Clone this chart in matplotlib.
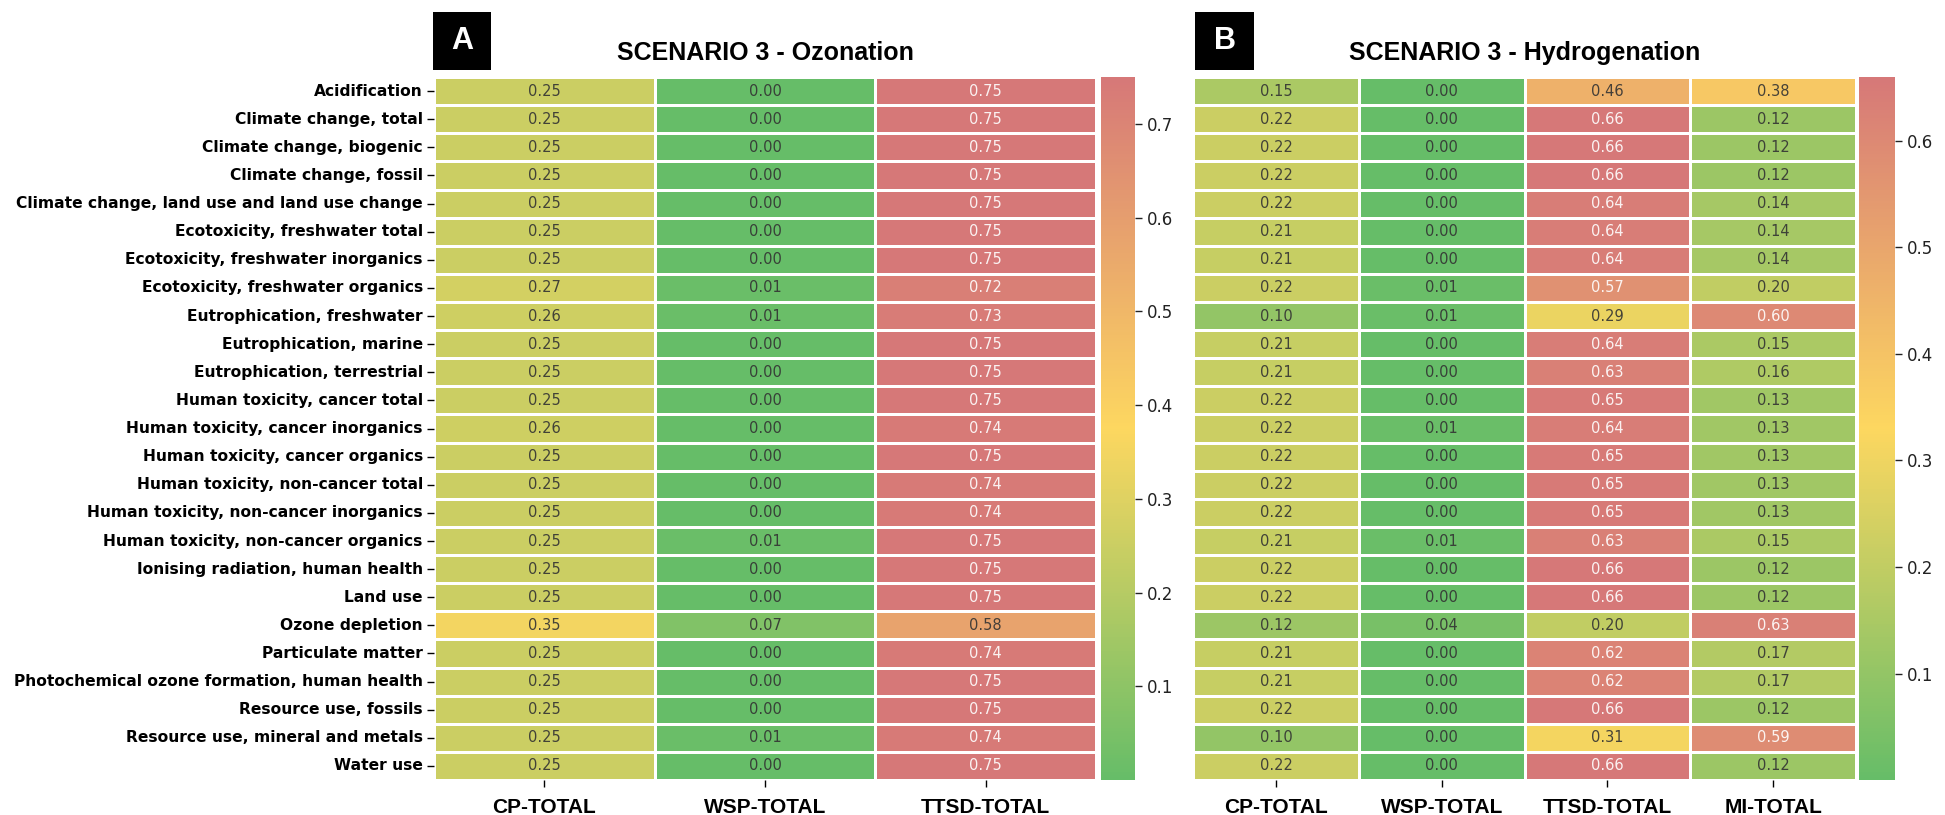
import numpy as np
import matplotlib.pyplot as plt
import seaborn as sns
from matplotlib.colors import LinearSegmentedColormap
from matplotlib.patches import Rectangle

categories = [
    "Acidification",
    "Climate change, total",
    "Climate change, biogenic",
    "Climate change, fossil",
    "Climate change, land use and land use change",
    "Ecotoxicity, freshwater total",
    "Ecotoxicity, freshwater inorganics",
    "Ecotoxicity, freshwater organics",
    "Eutrophication, freshwater",
    "Eutrophication, marine",
    "Eutrophication, terrestrial",
    "Human toxicity, cancer total",
    "Human toxicity, cancer inorganics",
    "Human toxicity, cancer organics",
    "Human toxicity, non-cancer total",
    "Human toxicity, non-cancer inorganics",
    "Human toxicity, non-cancer organics",
    "Ionising radiation, human health",
    "Land use",
    "Ozone depletion",
    "Particulate matter",
    "Photochemical ozone formation, human health",
    "Resource use, fossils",
    "Resource use, mineral and metals",
    "Water use",
]

# scenario 3 - ozonation
cols_a = ["CP-TOTAL", "WSP-TOTAL", "TTSD-TOTAL"]
cp_a = [0.25, 0.25, 0.25, 0.25, 0.25, 0.25, 0.25, 0.27, 0.26, 0.25, 0.25, 0.25, 0.26,
        0.25, 0.25, 0.25, 0.25, 0.25, 0.25, 0.35, 0.25, 0.25, 0.25, 0.25, 0.25]
wsp_a = [0.00, 0.00, 0.00, 0.00, 0.00, 0.00, 0.00, 0.01, 0.01, 0.00, 0.00, 0.00, 0.00,
         0.00, 0.00, 0.00, 0.01, 0.00, 0.00, 0.07, 0.00, 0.00, 0.00, 0.01, 0.00]
ttsd_a = [0.75, 0.75, 0.75, 0.75, 0.75, 0.75, 0.75, 0.72, 0.73, 0.75, 0.75, 0.75, 0.74,
          0.75, 0.74, 0.74, 0.75, 0.75, 0.75, 0.58, 0.74, 0.75, 0.75, 0.74, 0.75]

# scenario 3 - hydrogenation
cols_b = ["CP-TOTAL", "WSP-TOTAL", "TTSD-TOTAL", "MI-TOTAL"]
cp_b = [0.15, 0.22, 0.22, 0.22, 0.22, 0.21, 0.21, 0.22, 0.10, 0.21, 0.21, 0.22, 0.22,
        0.22, 0.22, 0.22, 0.21, 0.22, 0.22, 0.12, 0.21, 0.21, 0.22, 0.10, 0.22]
wsp_b = [0.00, 0.00, 0.00, 0.00, 0.00, 0.00, 0.00, 0.01, 0.01, 0.00, 0.00, 0.00, 0.01,
         0.00, 0.00, 0.00, 0.01, 0.00, 0.00, 0.04, 0.00, 0.00, 0.00, 0.00, 0.00]
ttsd_b = [0.46, 0.66, 0.66, 0.66, 0.64, 0.64, 0.64, 0.57, 0.29, 0.64, 0.63, 0.65, 0.64,
          0.65, 0.65, 0.65, 0.63, 0.66, 0.66, 0.20, 0.62, 0.62, 0.66, 0.31, 0.66]
mi_b = [0.38, 0.12, 0.12, 0.12, 0.14, 0.14, 0.14, 0.20, 0.60, 0.15, 0.16, 0.13, 0.13,
        0.13, 0.13, 0.13, 0.15, 0.12, 0.12, 0.63, 0.17, 0.17, 0.12, 0.59, 0.12]

cmap = LinearSegmentedColormap.from_list("gyr", ["#66BD68", "#FDD760", "#D67878"])

narrow = ["Liberation Sans Narrow", "Liberation Sans", "DejaVu Sans"]
FW, FH = 1945, 815


def letter_box(fig, x0, x1, y0, y1, letter):
    # black square with the panel letter, given in pixel coords from top-left
    fig.patches.append(Rectangle((x0 / FW, 1 - y1 / FH), (x1 - x0) / FW, (y1 - y0) / FH,
                                 transform=fig.transFigure, facecolor="black",
                                 edgecolor="none", zorder=5))
    fig.text((x0 + x1) / 2 / FW, 1 - (y0 + y1) / 2 / FH, letter, fontsize=22,
             fontweight="bold", color="white", family=["Liberation Sans", "DejaVu Sans"],
             ha="center", va="center", zorder=6)


def draw_panel(fig, rect, cbar_rect, data, cols, title, show_rows):
    ax = fig.add_axes(rect)
    cax = fig.add_axes(cbar_rect)
    data = np.array(data).T
    vmin, vmax = data.min(), data.max()
    sns.heatmap(data, ax=ax, cbar_ax=cax, cmap=cmap, vmin=vmin, vmax=vmax,
                linewidths=1.0, linecolor="white",
                xticklabels=cols, yticklabels=categories if show_rows else False)
    for i in range(data.shape[0]):
        for j in range(data.shape[1]):
            v = data[i, j]
            c = "white" if (v - vmin) / (vmax - vmin) > 0.8 else "#333333"
            ax.text(j + 0.5, i + 0.5, f"{v:.2f}", ha="center", va="center",
                    fontsize=10.5, color=c, alpha=0.9)
    ax.tick_params(axis="x", length=5, width=1, pad=8)
    for t in ax.get_xticklabels():
        t.set_fontfamily(narrow)
        t.set_fontweight("bold")
        t.set_fontsize(15)
        t.set_rotation(0)
    if show_rows:
        ax.tick_params(axis="y", length=5, width=1, pad=3)
        for t in ax.get_yticklabels():
            t.set_fontweight("bold")
            t.set_fontsize(11.2)
            t.set_rotation(0)
    else:
        ax.tick_params(axis="y", length=0)
    cax.set_yticks(np.arange(0.1, vmax, 0.1))
    cax.tick_params(labelsize=12, length=5, width=1, colors="#222222")
    ax.set_title(title, fontsize=18, fontweight="bold", family=narrow, pad=12)
    return ax


fig = plt.figure(figsize=(19.45, 8.15), dpi=100)

draw_panel(fig, [0.2231, 0.0429, 0.3404, 0.8626], [0.5661, 0.0429, 0.0175, 0.8626],
           [cp_a, wsp_a, ttsd_a], cols_a, "SCENARIO 3 - Ozonation", True)
draw_panel(fig, [0.6134, 0.0429, 0.3409, 0.8626], [0.9558, 0.0429, 0.0185, 0.8626],
           [cp_b, wsp_b, ttsd_b, mi_b], cols_b, "SCENARIO 3 - Hydrogenation", False)

letter_box(fig, 433, 491, 12, 70, "A")
letter_box(fig, 1195, 1254, 12, 70, "B")

fig.savefig("out.png", dpi=100)
